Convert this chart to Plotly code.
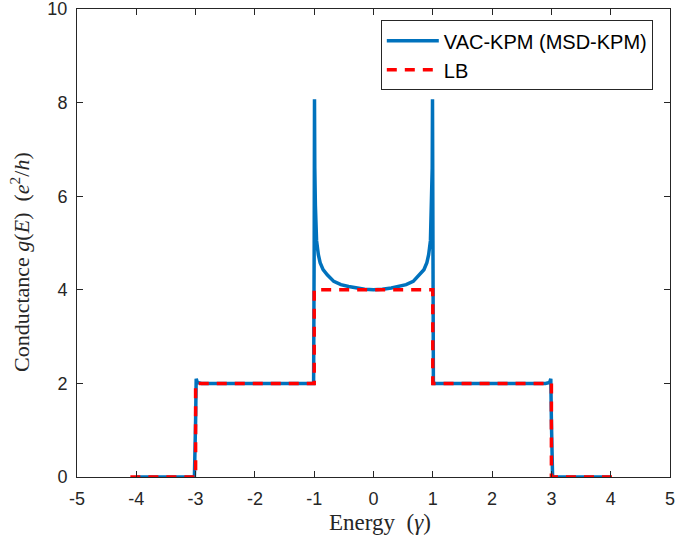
import plotly.graph_objects as go

# VAC-KPM (MSD-KPM) conductance curve
kpm_energy = [-4.0, -3.02, -3.0, -2.99, -2.97, -2.9, -2.0, -1.1, -1.01,
              -1.0, -0.995, -0.99, -0.98, -0.96, -0.93, -0.9, -0.85, -0.78,
              -0.67, -0.55, -0.42, -0.3, -0.15, 0.0,
              0.15, 0.3, 0.42, 0.55, 0.67, 0.78, 0.85, 0.9, 0.93, 0.96,
              0.98, 0.99, 0.995, 1.0,
              1.01, 1.1, 2.0, 2.9, 2.97, 2.99, 3.0, 3.02, 4.0]
kpm_g = [0.0, 0.0, 1.2, 2.1, 2.02, 2.0, 2.0, 2.0, 2.0,
         5.0, 8.07, 6.6, 5.8, 5.05, 4.75, 4.58, 4.43, 4.32,
         4.18, 4.11, 4.07, 4.04, 4.01, 4.0,
         4.01, 4.04, 4.07, 4.11, 4.18, 4.32, 4.43, 4.58, 4.75, 5.05,
         5.8, 6.6, 8.07, 5.0,
         2.0, 2.0, 2.0, 2.0, 2.02, 2.1, 1.2, 0.0, 0.0]

# Landauer-Buttiker (LB) step conductance
lb_energy = [-4.1, -3.0, -3.0, -1.0, -1.0, 1.0, 1.0, 3.0, 3.0, 4.1]
lb_g = [0, 0, 2, 2, 4, 4, 2, 2, 0, 0]

x_ticks = [-5, -4, -3, -2, -1, 0, 1, 2, 3, 4, 5]
y_ticks = [0, 2, 4, 6, 8, 10]

axis_color = "#262626"
tick_font = dict(family="Liberation Sans, Arial, sans-serif", size=18, color=axis_color)
title_font = dict(family="Liberation Serif, Times New Roman, serif", size=22, color=axis_color)

fig = go.Figure()
fig.add_trace(go.Scatter(x=kpm_energy, y=kpm_g, mode="lines",
                         name="VAC-KPM (MSD-KPM)",
                         line=dict(color="#0072BD", width=3.5)))
fig.add_trace(go.Scatter(x=lb_energy, y=lb_g, mode="lines", name="LB",
                         line=dict(color="#FF0000", width=3.5, dash="10px,8px")))

common_axis = dict(ticks="inside", ticklen=6, tickcolor=axis_color, mirror="allticks",
                   showline=True, linecolor=axis_color, linewidth=1, showgrid=False,
                   zeroline=False, tickfont=tick_font, automargin=False,
                   ticklabeloverflow="allow")

fig.update_layout(
    width=675, height=545,
    margin=dict(l=77, r=5, t=9, b=68),
    paper_bgcolor="white", plot_bgcolor="white",
    showlegend=True,
    legend=dict(x=0.971, y=0.976, xanchor="right", yanchor="top",
                bgcolor="white", bordercolor=axis_color, borderwidth=1,
                font=dict(family="Liberation Sans, Arial, sans-serif", size=20, color="black"),
                tracegroupgap=0, itemwidth=52),
    xaxis=dict(range=[-5, 5], tickvals=x_ticks, ticktext=[str(v) for v in x_ticks],
               ticklabelstandoff=5, **common_axis),
    yaxis=dict(range=[0, 10], tickvals=y_ticks, ticktext=[str(v) for v in y_ticks],
               ticklabelstandoff=5, **common_axis),
    annotations=[
        dict(text="Energy  (<i>γ</i>)", xref="paper", yref="paper",
             x=(380 - 77) / 593, y=(477 - 522) / 468, xanchor="center", yanchor="middle",
             showarrow=False, font=dict(family=title_font["family"], size=23, color=axis_color)),
        dict(text="Conductance <i>g</i>(<i>E</i>)  (<i>e</i><sup>2</sup>/<i>h</i>)",
             xref="paper", yref="paper", textangle=-90,
             x=(20 - 77) / 593, y=(477 - 262) / 468, xanchor="center", yanchor="middle",
             showarrow=False, font=title_font),
    ],
)

fig.write_html("out.html", config={"displayModeBar": False},
               post_script="document.body.style.margin='0';document.body.style.overflow='hidden';")
